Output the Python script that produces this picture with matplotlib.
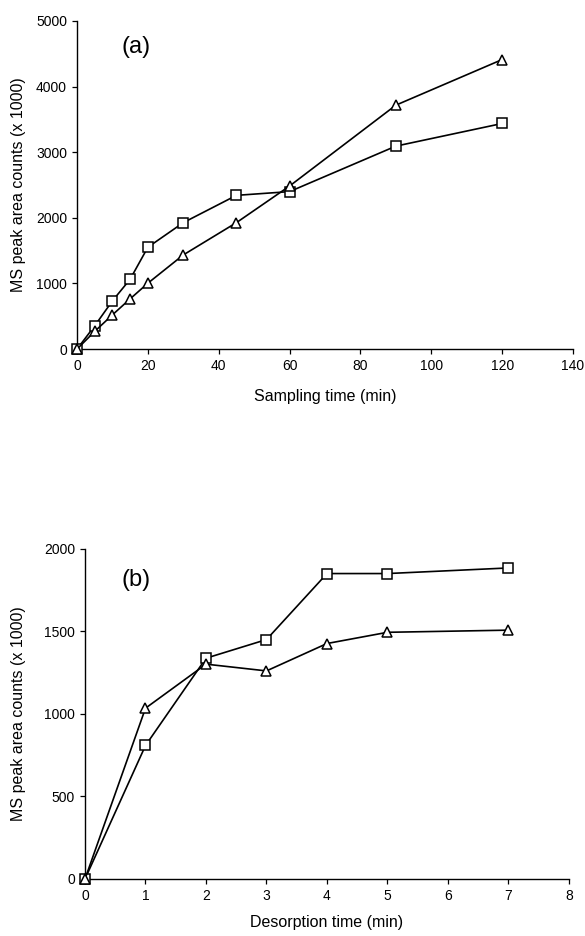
import matplotlib
matplotlib.use("Agg")
from matplotlib import pyplot as plt

plt.rcParams["font.family"] = ["Liberation Sans", "DejaVu Sans"]

# panel (a): sampling time
samp_time = [0, 5, 10, 15, 20, 30, 45, 60, 90, 120]
samp_square = [0, 355, 735, 1065, 1552, 1927, 2343, 2400, 3093, 3438]
samp_triangle = [0, 270, 522, 766, 1004, 1435, 1927, 2485, 3717, 4412]

# panel (b): desorption time
des_time = [0, 1, 2, 3, 4, 5, 7]
des_square = [0, 809, 1338, 1451, 1851, 1851, 1885]
des_triangle = [0, 1035, 1302, 1261, 1427, 1495, 1508]

fig = plt.figure(figsize=(5.85, 9.36), dpi=100)
ax1 = fig.add_axes([0.1316, 0.627, 0.8479, 0.3506])
ax2 = fig.add_axes([0.1453, 0.0609, 0.8273, 0.3526])


def style(ax):
    ax.spines["top"].set_visible(False)
    ax.spines["right"].set_visible(False)
    ax.tick_params(direction="out", length=3.6, width=0.9, labelsize=10, pad=3.5)
    for s in ["left", "bottom"]:
        ax.spines[s].set_linewidth(1.0)


mk = dict(color="black", lw=1.2, markerfacecolor="white",
          markeredgecolor="black", markeredgewidth=1.1, clip_on=False, zorder=3)

ax1.plot(samp_time, samp_square, marker="s", ms=6.5, **mk)
ax1.plot(samp_time, samp_triangle, marker="^", ms=6.5, **mk)
ax1.set_xlim(0, 140)
ax1.set_ylim(0, 5000)
ax1.set_xticks(range(0, 141, 20))
ax1.set_yticks(range(0, 5001, 1000))
ax1.set_xlabel("Sampling time (min)", fontsize=11.5)
ax1.set_ylabel("MS peak area counts (x 1000)", fontsize=11.5)
ax1.xaxis.set_label_coords(0.5, -0.122)
ax1.yaxis.set_label_coords(-0.103, 0.5)
ax1.text(16.7, 4600, "(a)", fontsize=17, ha="center", va="center")
style(ax1)

ax2.plot(des_time, des_square, marker="s", ms=6.5, **mk)
ax2.plot(des_time, des_triangle, marker="^", ms=6.5, **mk)
ax2.set_xlim(0, 8)
ax2.set_ylim(0, 2000)
ax2.set_xticks(range(0, 9))
ax2.set_yticks(range(0, 2001, 500))
ax2.set_xlabel("Desorption time (min)", fontsize=11.5)
ax2.set_ylabel("MS peak area counts (x 1000)", fontsize=11.5)
ax2.xaxis.set_label_coords(0.5, -0.109)
ax2.yaxis.set_label_coords(-0.122, 0.5)
ax2.text(0.84, 1812, "(b)", fontsize=17, ha="center", va="center")
style(ax2)

fig.savefig("out.png", dpi=100)
